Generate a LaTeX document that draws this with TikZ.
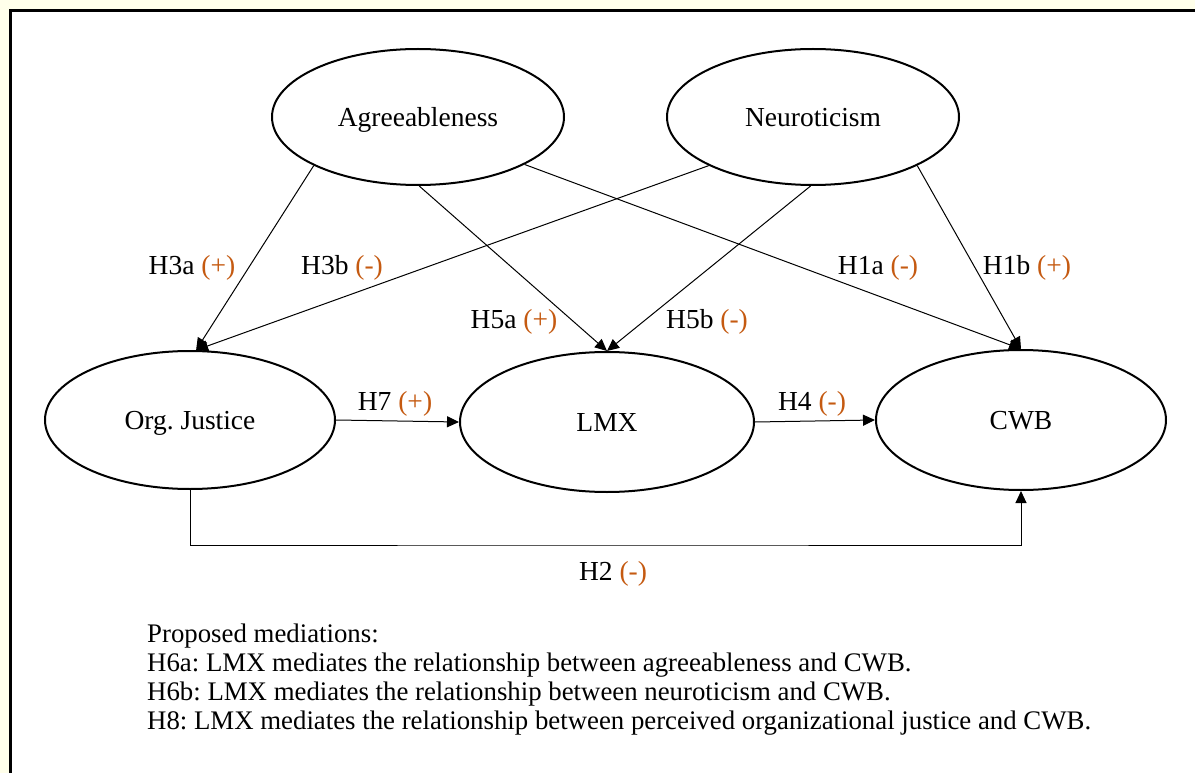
\documentclass[tikz,border=0pt]{standalone}
\usepackage{fontspec}
\setmainfont{Liberation Serif}
\usetikzlibrary{shapes.geometric,arrows.meta}
\definecolor{cream}{RGB}{255,255,234}
\definecolor{orng}{RGB}{197,90,17}
\tikzset{
  construct/.style={ellipse, draw, line width=2pt, inner sep=0pt, minimum width=292pt, minimum height=136pt, text height=25pt, text depth=6pt},
  path/.style={draw, line width=1pt, -{Triangle[length=12pt,width=11pt]}},
  hyp/.style={anchor=base, inner sep=0pt},
  medline/.style={anchor=base west, inner sep=0pt, font=\fontsize{26.8}{29}\selectfont},
}
\newcommand{\ora}[1]{\textcolor{orng}{#1}}
\begin{document}
\frenchspacing
\begin{tikzpicture}[x=1pt,y=-1pt, font=\fontsize{27.5}{29}\selectfont]
\useasboundingbox (0,0) rectangle (1195,773);
\fill[cream] (0,0) rectangle (1195,773);
\fill[white] (10.5,10.5) rectangle (1195,773);
\draw[line width=2.5pt] (10.5,773) -- (10.5,10.5) -- (1195,10.5);

\node[construct] (agr) at (418,117) {Agreeableness};
\node[construct] (neu) at (813,117) {Neuroticism};
\node[construct, minimum width=290pt, minimum height=138pt] (oj) at (190,420) {Org.\ Justice};
\node[construct, minimum width=294pt, minimum height=140pt] (lmx) at (607,422) {LMX};
\node[construct, minimum width=290pt, minimum height=140pt] (cwb) at (1021,420) {CWB};

\draw[path] (agr.-155) -- (oj.85);
\draw[path] (neu.-155) -- (oj.85);
\draw[path] (agr.-89) -- (lmx.north);
\draw[path] (neu.-92) -- (lmx.north);
\draw[path] (agr.-24) -- (cwb.north);
\draw[path] (neu.-25) -- (cwb.north);
\draw[path] (oj.east) -- (lmx.west);
\draw[path] (lmx.east) -- (cwb.west);
\coordinate (h2y) at (600,545);
\draw[path] (oj.south) |- (h2y) -| (cwb.south);

\node[hyp] (l3a) at (192,274) {H3a \ora{(+)}};
\node[hyp] (l3b) at (342,274) {H3b \ora{(-)}};
\node[hyp] (l1a) at (878,274) {H1a \ora{(-)}};
\node[hyp] (l1b) at (1027,274) {H1b \ora{(+)}};
\node[hyp] (l5a) at (514,328) {H5a \ora{(+)}};
\node[hyp] (l5b) at (707,328) {H5b \ora{(-)}};
\node[hyp] (l7) at (395,410) {H7 \ora{(+)}};
\node[hyp] (l4) at (812,410) {H4 \ora{(-)}};
\node[hyp] (l2) at (613,580) {H2 \ora{(-)}};

\node[medline] (m0) at (147,642) {Proposed mediations:};
\node[medline] (m1) at (147,671) {H6a: LMX mediates the relationship between agreeableness and CWB.};
\node[medline] (m2) at (147,700) {H6b: LMX mediates the relationship between neuroticism and CWB.};
\node[medline] (m3) at (147,729) {H8: LMX mediates the relationship between perceived organizational justice and CWB.};
\end{tikzpicture}
\end{document}
